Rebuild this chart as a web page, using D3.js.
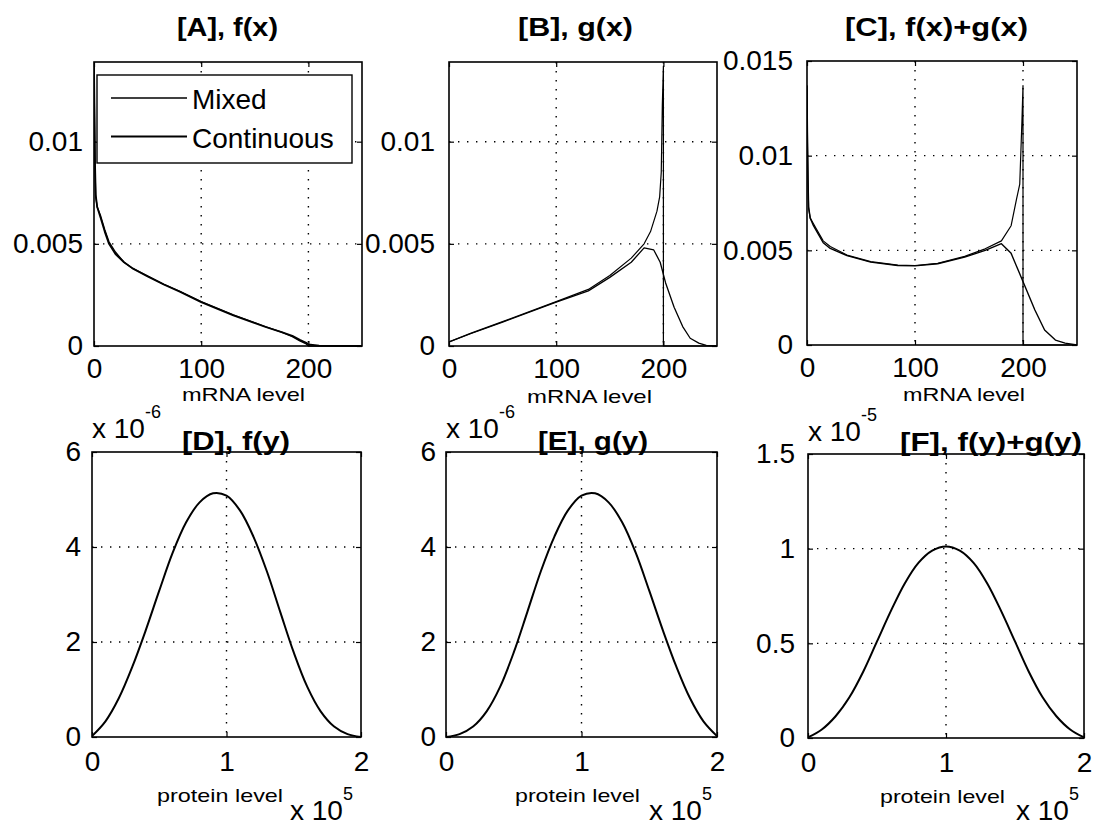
<!DOCTYPE html>
<html>
<head>
<meta charset="utf-8">
<script src="https://cdn.jsdelivr.net/npm/d3@7"></script>
<style>
  body { margin: 0; background: #fff; }
  svg text { font-family: "Liberation Sans", Arial, sans-serif; fill: #000; }
</style>
</head>
<body>
<svg id="fig" width="1096" height="827"></svg>
<script>
// ---------- mRNA densities (x = mRNA level) ----------
// [A] f(x)
const fxMixedLevel = [0, 0.5, 1, 1.6, 3, 6, 10, 14, 20, 28, 36, 50, 65, 80, 100, 130, 160, 175, 185, 192, 198, 200, 225, 250];
const fxMixed      = [0.0137, 0.0110, 0.0086, 0.0073, 0.0068, 0.0064, 0.0057, 0.0051, 0.0046, 0.0041, 0.0038, 0.00343, 0.00303, 0.00268, 0.00217, 0.00152, 0.00095, 0.00068, 0.00046, 0.00025, 0.0001, 0, 0, 0];
const fxContLevel  = [0, 0.5, 1, 1.6, 3, 6, 10, 14, 20, 28, 36, 50, 65, 80, 100, 130, 160, 175, 185, 192, 198, 200, 210, 250];
const fxCont       = [0.0137, 0.0112, 0.0088, 0.0074, 0.0068, 0.0063, 0.0056, 0.0050, 0.0045, 0.0041, 0.0038, 0.0034, 0.00301, 0.00266, 0.00215, 0.0015, 0.00093, 0.00068, 0.0005, 0.0003, 0.00016, 0.00008, 0.00002, 0];

// [B] g(x)
const gxMixedLevel = [0, 20, 50, 100, 130, 150, 170, 182, 188, 194, 196.5, 198, 199, 200, 200, 250];
const gxMixed      = [0.0002, 0.00062, 0.00119, 0.00217, 0.00277, 0.00345, 0.0043, 0.0050, 0.0056, 0.0066, 0.0073, 0.0085, 0.0118, 0.0137, 0, 0];
const gxContLevel  = [0, 20, 50, 100, 130, 150, 170, 182, 191, 197, 202, 210, 218, 225, 233, 240, 250];
const gxCont       = [0.0002, 0.0006, 0.00117, 0.00215, 0.0027, 0.00336, 0.0041, 0.0048, 0.0047, 0.0041, 0.0031, 0.0019, 0.00095, 0.00038, 0.00014, 0.00003, 0];

// [C] f(x)+g(x)
const sxMixedLevel = [0, 0.5, 1, 1.5, 3, 6, 9, 15, 21.5, 37, 59, 84, 100, 121, 146, 165, 180, 189, 194, 197, 199, 200, 200, 250];
const sxMixed      = [0.0137, 0.0105, 0.0085, 0.0072, 0.0067, 0.0064, 0.0061, 0.0055, 0.0052, 0.00475, 0.0044, 0.00422, 0.0042, 0.00431, 0.00468, 0.00508, 0.0055, 0.0063, 0.0077, 0.0085, 0.0118, 0.0137, 0, 0];
const sxContLevel  = [0, 0.5, 1, 1.5, 3, 6, 9, 15, 21.5, 37, 59, 84, 100, 121, 146, 165, 180, 189, 195.5, 202, 211, 220, 230, 239, 250];
const sxCont       = [0.0137, 0.0107, 0.0087, 0.0073, 0.0067, 0.0063, 0.0060, 0.0054, 0.0051, 0.00472, 0.00438, 0.0042, 0.00418, 0.00429, 0.00464, 0.005, 0.00535, 0.00484, 0.00396, 0.00308, 0.00185, 0.00079, 0.00026, 0.0001, 0];

// ---------- protein densities (level in units of 1e5) ----------
const proteinLevel = [0, 0.1, 0.2, 0.3, 0.4, 0.5, 0.6, 0.7, 0.8, 0.9, 1.0, 1.1, 1.2, 1.3, 1.4, 1.5, 1.6, 1.7, 1.8, 1.9, 2.0];
// [D] f(y), units of 1e-6
const fy  = [0.02, 0.33, 0.82, 1.48, 2.25, 3.08, 3.88, 4.52, 4.94, 5.13, 5.08, 4.77, 4.22, 3.49, 2.63, 1.78, 1.06, 0.54, 0.22, 0.06, 0.0];
// [E] g(y), units of 1e-6
const gy  = [0.0, 0.06, 0.22, 0.54, 1.06, 1.78, 2.63, 3.49, 4.22, 4.77, 5.08, 5.13, 4.94, 4.52, 3.88, 3.08, 2.25, 1.48, 0.82, 0.33, 0.02];
// [F] f(y)+g(y), units of 1e-5
const sy  = [0.003, 0.045, 0.115, 0.215, 0.35, 0.51, 0.67, 0.815, 0.925, 0.99, 1.012, 0.99, 0.925, 0.815, 0.67, 0.51, 0.35, 0.215, 0.115, 0.045, 0.003];

// ---------- tick values ----------
const mrnaTicks = [0, 100, 200];
const mrnaYTicks = [0, 0.005, 0.01];
const mrnaYTicksC = [0, 0.005, 0.01, 0.015];
const proteinTicks = [0, 1, 2];
const proteinYTicks = [0, 2, 4, 6];
const proteinYTicksF = [0, 0.5, 1, 1.5];

const legendLabels = ["Mixed", "Continuous"];

const svg = d3.select("#fig");
const FONT_TICK = 28;

function zip(xs, ys) { return xs.map((v, i) => [v, ys[i]]); }

function drawPanel(p) {
  const g = svg.append("g");
  const x = d3.scaleLinear().domain(p.xDomain).range([p.left, p.right]);
  const y = d3.scaleLinear().domain(p.yDomain).range([p.bottom, p.top]);

  // dotted grid at interior ticks
  const gridStyle = sel => sel.attr("stroke", "#000").attr("stroke-width", 1.4)
      .attr("stroke-dasharray", "1.4,7.6").attr("fill", "none");
  p.xTicks.filter(v => x(v) > p.left + 1 && x(v) < p.right - 1).forEach(v => {
    g.append("line").attr("x1", x(v)).attr("x2", x(v)).attr("y1", p.top).attr("y2", p.bottom).call(gridStyle);
  });
  p.yTicks.filter(v => y(v) < p.bottom - 1 && y(v) > p.top + 1).forEach(v => {
    g.append("line").attr("x1", p.left).attr("x2", p.right).attr("y1", y(v)).attr("y2", y(v)).call(gridStyle);
  });

  // data curves
  const clipId = "clip" + p.id;
  svg.append("clipPath").attr("id", clipId).append("rect")
    .attr("x", p.left).attr("y", p.top - 1).attr("width", p.right - p.left).attr("height", p.bottom - p.top + 2);
  const line = d3.line().x(d => x(d[0])).y(d => y(d[1])).curve(p.curve || d3.curveLinear);
  p.series.forEach(s => {
    g.append("path").attr("d", line(s.data)).attr("fill", "none")
      .attr("stroke", "#000").attr("stroke-width", s.width)
      .attr("stroke-linejoin", "round").attr("clip-path", `url(#${clipId})`);
  });

  // axes with inward ticks on all four sides
  const tick = 5;
  const ax = g.append("g").attr("transform", `translate(0,${p.bottom})`)
    .call(d3.axisBottom(x).tickValues(p.xTicks).tickFormat(p.xFmt).tickSize(-tick).tickPadding(p.xPad));
  g.append("g").attr("transform", `translate(0,${p.top})`)
    .call(d3.axisTop(x).tickValues(p.xTicks).tickFormat("").tickSize(-tick));
  const ay = g.append("g").attr("transform", `translate(${p.left},0)`)
    .call(d3.axisLeft(y).tickValues(p.yTicks).tickFormat(p.yFmt).tickSize(-tick).tickPadding(p.yPad));
  g.append("g").attr("transform", `translate(${p.right},0)`)
    .call(d3.axisRight(y).tickValues(p.yTicks).tickFormat("").tickSize(-tick));
  g.selectAll(".domain").remove();
  g.selectAll(".tick line").attr("stroke", "#000").attr("stroke-width", 1.2);
  [ax, ay].forEach(a => a.selectAll("text").attr("font-size", FONT_TICK)
      .attr("font-family", "Liberation Sans, Arial, sans-serif").attr("fill", "#000"));

  // box
  g.append("rect").attr("x", p.left).attr("y", p.top)
    .attr("width", p.right - p.left).attr("height", p.bottom - p.top)
    .attr("fill", "none").attr("stroke", "#000").attr("stroke-width", 1.6);

  // title
  g.append("text").attr("x", p.title.x).attr("y", p.title.y)
    .attr("font-size", 26).attr("font-weight", "bold")
    .attr("textLength", p.title.w).attr("lengthAdjust", "spacingAndGlyphs")
    .text(p.title.text);

  // x label
  g.append("text").attr("x", p.xLabel.x).attr("y", p.xLabel.y)
    .attr("font-size", 19)
    .attr("textLength", p.xLabel.w).attr("lengthAdjust", "spacingAndGlyphs")
    .text(p.xLabel.text);

  // exponent multipliers
  (p.exps || []).forEach(e => {
    g.append("text").attr("x", e.x).attr("y", e.y).attr("font-size", FONT_TICK).text("x 10");
    g.append("text").attr("x", e.x + 53).attr("y", e.y - 20).attr("font-size", 18).text(e.pow);
  });

  return { g, x, y };
}

const fmtMrnaY = v => v === 0 ? "0" : String(+v.toFixed(3));
const fmtPlain = v => String(v);
const smooth = d3.curveCatmullRom.alpha(0.5);

const panels = [
  { id: "A", left: 94, right: 362, top: 62, bottom: 346, xDomain: [0, 250], yDomain: [0, 0.0139],
    xTicks: mrnaTicks, yTicks: mrnaYTicks, xFmt: fmtPlain, yFmt: fmtMrnaY, xPad: 12, yPad: 11,
    series: [ { data: zip(fxMixedLevel, fxMixed), width: 1.3 }, { data: zip(fxContLevel, fxCont), width: 1.8 } ],
    title: { text: "[A], f(x)", x: 177, y: 36, w: 101 },
    xLabel: { text: "mRNA level", x: 182, y: 401, w: 123 } },
  { id: "B", left: 449, right: 717, top: 62, bottom: 346, xDomain: [0, 250], yDomain: [0, 0.0139],
    xTicks: mrnaTicks, yTicks: mrnaYTicks, xFmt: fmtPlain, yFmt: fmtMrnaY, xPad: 12, yPad: 14,
    series: [ { data: zip(gxMixedLevel, gxMixed), width: 1.2 }, { data: zip(gxContLevel, gxCont), width: 1.3 } ],
    title: { text: "[B], g(x)", x: 518, y: 36, w: 115 },
    xLabel: { text: "mRNA level", x: 527, y: 403, w: 125 } },
  { id: "C", left: 807, right: 1077, top: 61, bottom: 345, xDomain: [0, 250], yDomain: [0, 0.015],
    xTicks: mrnaTicks, yTicks: mrnaYTicksC, xFmt: fmtPlain, yFmt: fmtMrnaY, xPad: 12, yPad: 14,
    series: [ { data: zip(sxMixedLevel, sxMixed), width: 1.2 }, { data: zip(sxContLevel, sxCont), width: 1.4 } ],
    title: { text: "[C], f(x)+g(x)", x: 845, y: 36, w: 183 },
    xLabel: { text: "mRNA level", x: 903, y: 401, w: 122 } },
  { id: "D", left: 92, right: 361, top: 452, bottom: 737, xDomain: [0, 2], yDomain: [0, 6],
    xTicks: proteinTicks, yTicks: proteinYTicks, xFmt: fmtPlain, yFmt: fmtPlain, xPad: 14, yPad: 11,
    series: [ { data: zip(proteinLevel, fy), width: 2 } ], curve: smooth,
    title: { text: "[D], f(y)", x: 182, y: 450, w: 108 },
    xLabel: { text: "protein level", x: 157, y: 802, w: 126 },
    exps: [ { x: 92, y: 438, pow: "-6" }, { x: 290, y: 820, pow: "5" } ] },
  { id: "E", left: 446, right: 717, top: 452, bottom: 737, xDomain: [0, 2], yDomain: [0, 6],
    xTicks: proteinTicks, yTicks: proteinYTicks, xFmt: fmtPlain, yFmt: fmtPlain, xPad: 14, yPad: 10,
    series: [ { data: zip(proteinLevel, gy), width: 2 } ], curve: smooth,
    title: { text: "[E], g(y)", x: 538, y: 450, w: 110 },
    xLabel: { text: "protein level", x: 515, y: 802, w: 125 },
    exps: [ { x: 446, y: 438, pow: "-6" }, { x: 649, y: 820, pow: "5" } ] },
  { id: "F", left: 808, right: 1084, top: 454, bottom: 738, xDomain: [0, 2], yDomain: [0, 1.5],
    xTicks: proteinTicks, yTicks: proteinYTicksF, xFmt: fmtPlain, yFmt: fmtPlain, xPad: 14, yPad: 13,
    series: [ { data: zip(proteinLevel, sy), width: 2 } ], curve: smooth,
    title: { text: "[F], f(y)+g(y)", x: 900, y: 451, w: 182 },
    xLabel: { text: "protein level", x: 880, y: 803, w: 125 },
    exps: [ { x: 808, y: 441, pow: "-5" }, { x: 1016, y: 820, pow: "5" } ] }
];

const drawn = panels.map(drawPanel);

// legend inside panel A
const lg = drawn[0].g.append("g");
lg.append("rect").attr("x", 97).attr("y", 75).attr("width", 255).attr("height", 88)
  .attr("fill", "#fff").attr("stroke", "#000").attr("stroke-width", 1.4);
legendLabels.forEach((name, i) => {
  const yy = 98 + i * 38.5;
  lg.append("line").attr("x1", 111).attr("x2", 187).attr("y1", yy).attr("y2", yy)
    .attr("stroke", "#000").attr("stroke-width", panels[0].series[i].width);
  lg.append("text").attr("x", 192).attr("y", yy + 11).attr("font-size", 28).text(name);
});
</script>
</body>
</html>
